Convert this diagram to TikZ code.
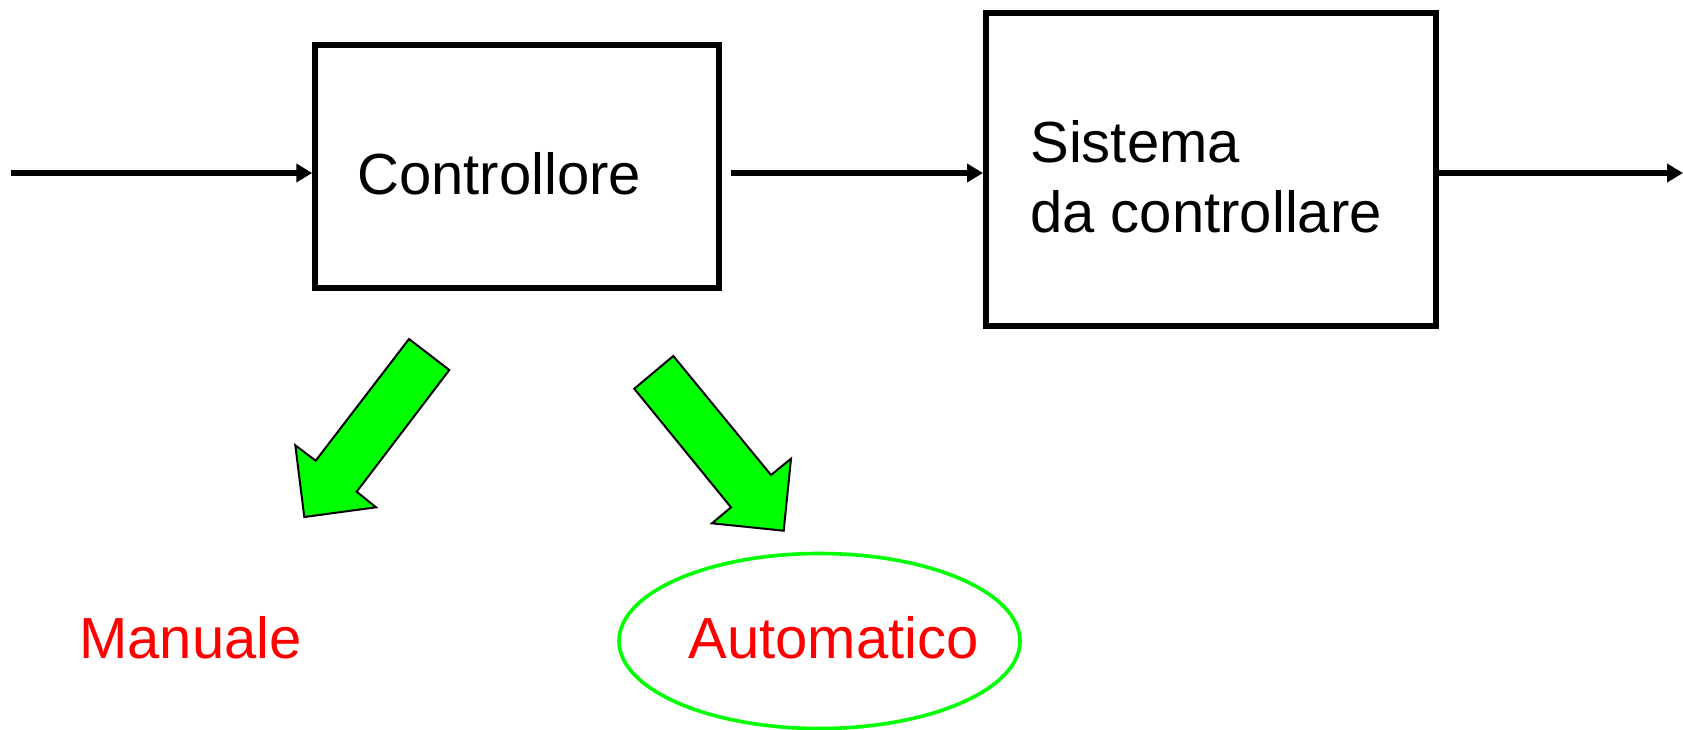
\documentclass[tikz,border=0pt]{standalone}
\usepackage{fontspec}
\setmainfont{Liberation Sans}
\usepackage{xcolor}
\usetikzlibrary{arrows.meta,shapes.geometric,positioning,calc}
\definecolor{verde}{RGB}{0,255,0}
\definecolor{rosso}{RGB}{255,0,0}

\begin{document}
\begin{tikzpicture}[x=0.5pt,y=-0.5pt,
		blocco/.style={draw,line width=3pt,inner sep=0pt},
		freccia/.style={line width=2.6pt,-{Triangle[length=8pt,width=9pt]}},
		grossa/.style={draw=black,fill=verde,line width=1pt,line join=miter},
		testo/.style={font=\fontsize{29}{35}\selectfont,inner sep=0pt,anchor=base west}]
	\useasboundingbox (0,0) rectangle (1683,729);
		\node[blocco,minimum width=201.75pt,minimum height=121.5pt] (ctrl) at (517,166.5) {};
			\node[testo] (ctrltxt) at (357,194) {Controllore};
		\node[blocco,minimum width=225pt,minimum height=156.5pt] (sys) at (1211,169.5) {};
			\node[testo] (systxt1) at (1030,162) {Sistema};
			\node[testo] (systxt2) at (1030,232) {da controllare};
		\coordinate (in) at (11,173);
		\coordinate (mid) at (731,173);
		\coordinate (out) at (1683,173);
		\draw[freccia] (in) -- (in -| ctrl.west);
		\draw[freccia] (mid) -- (mid -| sys.west);
		\draw[freccia] (sys.east |- out) -- (out);
	% frecce verdi
		\draw[grossa] (409,339) -- (449.3,370) -- (356.7,491.7) -- (376,507.3) -- (304.3,517) -- (295.3,445.3) -- (315.7,460.7) -- cycle;
		\draw[grossa] (673.3,356) -- (634.3,388.7) -- (731,507.3) -- (712,523.3) -- (783.7,530.7) -- (791,458.7) -- (771,475) -- cycle;
		\node[testo,text=rosso] (man) at (79,658) {Manuale};
		\node[ellipse,draw=verde,line width=1.8pt,minimum width=200.5pt,minimum height=87.5pt] (auto) at (819.5,641) {};
		\node[testo,text=rosso] (autotxt) at (688,658) {Automatico};
	\end{tikzpicture}
\end{document}
